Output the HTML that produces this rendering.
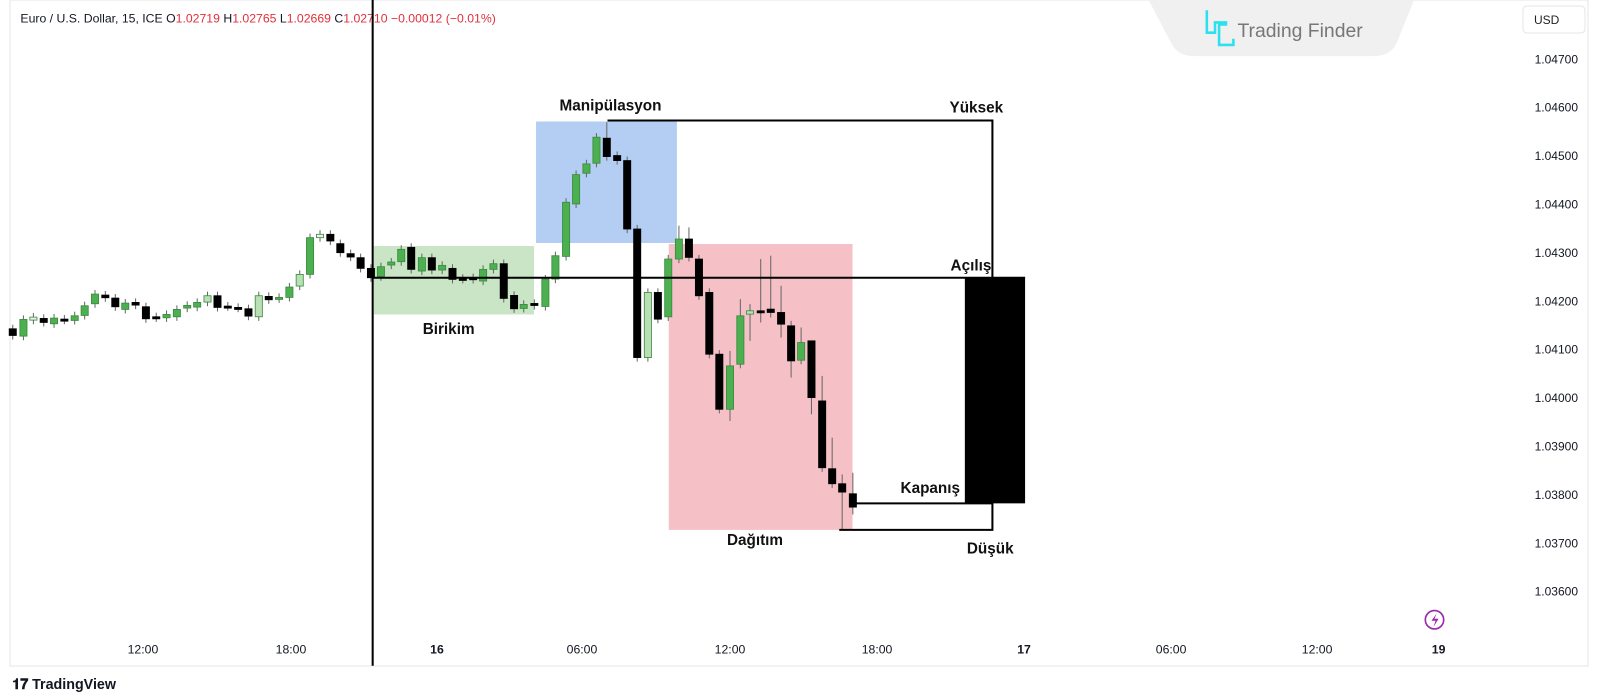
<!DOCTYPE html>
<html><head><meta charset="utf-8"><style>
html,body{margin:0;padding:0;background:#fff;width:1601px;height:700px;overflow:hidden;font-family:"Liberation Sans",sans-serif}
svg{position:absolute;left:0;top:0}
</style></head><body>
<svg id="s" width="1601" height="700" xmlns="http://www.w3.org/2000/svg">
<rect x="10" y="0" width="1578" height="666" fill="none" stroke="#e6e6e6"/>
<g transform="scale(1.021)">
<path d="M1125 0 L1385 0 L1368 42 Q1362 55 1345 55 L1170 55 Q1153 55 1147 42 Z" fill="#f0f0f0"/>
<g stroke="#2de0f0" stroke-width="2.5" fill="none"><path d="M1182 10 v22 h8 v-10 h12"/><path d="M1202 24 h-8 v20 h14 v-6"/></g>
<text x="1212" y="36" font-size="19" fill="#777">Trading Finder</text>
<text x="20" y="22" font-size="12" fill="#131722">Euro / U.S. Dollar, 15, ICE <tspan fill="#131722">O</tspan><tspan fill="#e0303b">1.02719 </tspan><tspan fill="#131722">H</tspan><tspan fill="#e0303b">1.02765 </tspan><tspan fill="#131722">L</tspan><tspan fill="#e0303b">1.02669 </tspan><tspan fill="#131722">C</tspan><tspan fill="#e0303b">1.02710 −0.00012 (−0.01%)</tspan></text>
<rect x="366" y="241" width="157" height="67" fill="#a6d4a0" opacity="0.6"/>
<rect x="525" y="119" width="138" height="119" fill="#a6c6f0" opacity="0.85"/>
<rect x="655" y="239" width="180" height="280" fill="#f0a0a8" opacity="0.65"/>
<g id="c"></g>
<line x1="365" y1="0" x2="365" y2="652" stroke="#000" stroke-width="2"/>
<g stroke="#000" stroke-width="2" fill="none">
<line x1="365" y1="272" x2="1004" y2="272"/>
<polyline points="595,118 972,118 972,272"/>
<polyline points="822,519 972,519 972,493 836,493"/>
</g>
<rect x="945" y="272" width="59" height="221" fill="#000"/>
<g font-size="15" font-weight="bold" fill="#111">
<text x="548" y="108">Manipülasyon</text>
<text x="930" y="110">Yüksek</text>
<text x="931" y="265">Açılış</text>
<text x="414" y="327">Birikim</text>
<text x="882" y="483">Kapanış</text>
<text x="712" y="534">Dağıtım</text>
<text x="947" y="542">Düşük</text>
</g>
<g font-size="12" fill="#131722" text-anchor="middle">
<text x="140" y="640">12:00</text><text x="285" y="640">18:00</text><text x="428" y="640" font-weight="bold">16</text>
<text x="570" y="640">06:00</text><text x="715" y="640">12:00</text><text x="859" y="640">18:00</text>
<text x="1003" y="640" font-weight="bold">17</text><text x="1147" y="640">06:00</text><text x="1290" y="640">12:00</text><text x="1409" y="640" font-weight="bold">19</text>
</g>
<circle cx="1405" cy="607" r="9" fill="none" stroke="#9c27b0" stroke-width="1.6"/>
<path d="M1407 601 l-5 7 h4 l-2 6 l5 -8 h-4 z" fill="#9c27b0"/>
<text x="12" y="675" font-size="14" font-weight="bold" fill="#131722">𝟏𝟕 TradingView</text>
</g>
<rect x="1523" y="6" width="62" height="27" rx="4" fill="#fff" stroke="#e4e4e4"/>
<text x="1534" y="24" font-size="12" fill="#222">USD</text>
<g font-size="12" fill="#131722" text-anchor="end" id="p"></g>
</svg>
<script>
var g=document.getElementById('c'),h='';
function C(x,y1,y2,c,wt,wb){var fill=c=='k'?'#000':(c=='g'?'#4caf50':(c=='l'?'#b9dfb5':'#eee'));
 h+='<line x1="'+x+'" x2="'+x+'" y1="'+(wt||y1-4)+'" y2="'+(wb||y2+4)+'" stroke="#666" stroke-width="1"/>';
 h+='<rect x="'+(x-3.5)+'" y="'+y1+'" width="7" height="'+Math.max(2,y2-y1)+'" fill="'+fill+'" stroke="'+(c=='k'?'#000':'#3a8a3e')+'" stroke-width="0.8"/>';}
var z1=[[37,328,348,'k'],[68,300,350,'g'],[97,293,302,'w'],[127,297,309,'k'],[157,296,313,'g'],[187,299,302,'k'],[217,289,303,'g'],[246,259,288,'g'],[276,224,253,'g'],[306,227,235,'k'],[335,236,262,'k'],[364,251,270,'g'],[394,249,257,'k'],[424,262,298,'k'],[454,292,295,'k'],[484,285,295,'g'],[514,270,292,'g'],[544,258,266,'g'],[573,249,263,'g'],[603,229,248,'l'],[632,229,264,'k'],[662,260,262,'k'],[692,264,266,'k'],[722,268,290,'k'],[752,229,292,'l'],[781,231,241,'k'],[811,234,238,'g'],[841,203,234,'g'],[871,165,200,'l'],[901,55,165,'g'],[930,45,55,'w'],[960,45,65,'k'],[989,73,100,'k'],[1019,103,113,'k'],[1048,115,147,'k'],[1078,147,175,'k'],[1107,142,172,'g'],[1137,128,137,'g'],[1166,90,127,'g'],[1195,84,150,'k'],[1226,115,155,'g'],[1255,115,152,'k'],[1285,138,152,'g'],[1315,147,180,'k'],[1345,177,180,'k'],[1375,175,180,'k'],[1404,150,185,'g'],[1434,133,150,'g'],[1464,133,237,'k'],[1494,228,268,'k'],[1522,255,267,'g']];
z1.forEach(function(a){C(365+(a[0]-1083)*0.337,272+(a[1]-175)*0.327,272+(a[2]-175)*0.327,a[3]);});
var z2=[[42,578,584,'k'],[75,505,587,'g'],[105,435,505,'g'],[137,275,437,'g'],[167,192,280,'g'],[198,160,188,'g'],[228,80,158,'g'],[259,83,138,'k',35],[290,135,150,'k'],[320,150,355,'k'],[350,355,740,'k'],[382,545,740,'l'],[412,545,625,'k'],[443,445,618,'g'],[475,385,445,'g',345],[505,385,440,'k',350],[535,445,555,'k'],[566,545,730,'k'],[596,730,895,'k'],[628,765,895,'g',720,930],[659,615,760,'g',565],[688,600,610,'l',580,690],[720,600,606,'k',445,635],[750,595,605,'k',435,620],[781,605,640,'k',525,680],[811,645,750,'k',630,800],[841,695,748,'g',650],[872,690,860,'k',690,910],[904,870,1070,'k',795],[934,1073,1118,'k',980],[964,1118,1143,'k',1090,1255],[996,1148,1188,'k',1085,1210]];
function Y(z){return 119+(z-33)*0.327;}
z2.forEach(function(a){C(525+(a[0]-47)*0.327,Y(a[1]),Y(a[2]),a[3],a[4]?Y(a[4]):0,a[5]?Y(a[5]):0);});
g.innerHTML=h;
var p='',v=['1.04700','1.04600','1.04500','1.04400','1.04300','1.04200','1.04100','1.04000','1.03900','1.03800','1.03700','1.03600'];
v.forEach(function(t,i){p+='<text x="1578" y="'+((62+i*47.4)*1.021)+'">'+t+'</text>';});
document.getElementById('p').innerHTML=p;
</script>
</body></html>
